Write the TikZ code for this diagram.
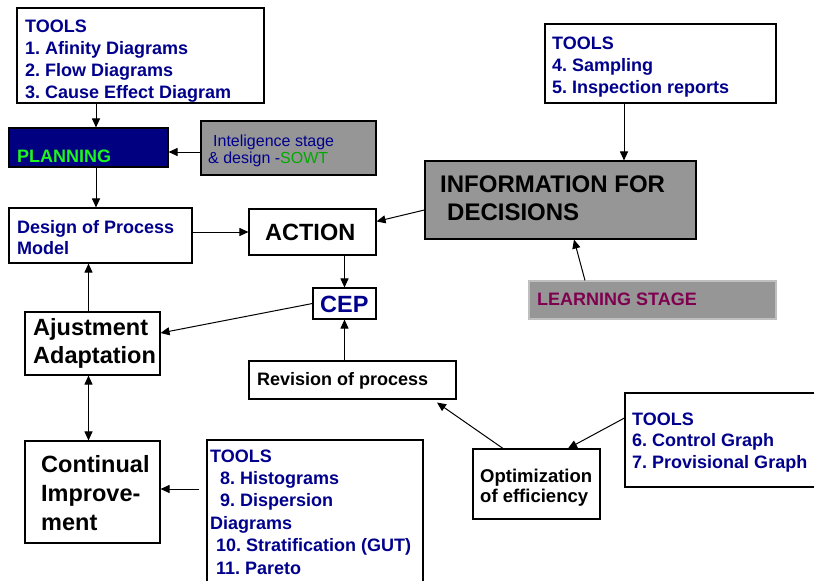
\documentclass[tikz,border=0pt]{standalone}
\usepackage{fontspec}
\setmainfont{Liberation Sans}
\usetikzlibrary{arrows.meta,fit}
\frenchspacing
\definecolor{navytxt}{RGB}{0,0,140}
\definecolor{planfill}{RGB}{0,0,128}
\definecolor{plangreen}{RGB}{30,245,30}
\definecolor{sowtgreen}{RGB}{0,170,0}
\definecolor{boxgray}{RGB}{150,150,150}
\definecolor{learnred}{RGB}{128,0,80}
\newcommand\mylines[1]{\begin{tabular}[t]{@{}l@{}}#1\end{tabular}}
\tikzset{
  box/.style={draw=black, line width=1.1pt, inner sep=0pt, fill=white},
  graybox/.style={box, fill=boxgray},
  txt/.style={anchor=base west, inner sep=0pt, font=\bfseries},
  arr/.style={line width=1pt, -{Triangle[length=9pt,width=8pt]}},
  dblarr/.style={line width=1pt, {Triangle[length=9pt,width=8pt]}-{Triangle[length=9pt,width=8pt]}},
  fs/.style 2 args={node font=\fontsize{#1}{#2}\selectfont\bfseries}
}
\begin{document}
\begin{tikzpicture}[x=1pt,y=-1pt]
\useasboundingbox (0,0) rectangle (814,581);
\fill[white] (0,0) rectangle (814,581);
% boxes
\node[box, fit={(17,8) (264,103)}] (t1) {};
\node[box, fill=planfill, fit={(9,128) (168,167)}] (plan) {};
\node[graybox, fit={(201,121) (376,175)}] (intel) {};
\node[box, fit={(9,208) (192,263)}] (design) {};
\node[box, fit={(249,209) (376,255)}] (action) {};
\node[graybox, fit={(425,161) (696,239)}] (info) {};
\node[box, fit={(545,24) (776,103)}] (t2) {};
\node[graybox, draw=black!25, fit={(529,281) (776,319)}] (learn) {};
\node[box, fit={(313,288) (376,319)}] (cep) {};
\node[box, fit={(25,312) (160,375)}] (ajust) {};
\node[box, fit={(249,361) (456,399)}] (rev) {};
\node[box, fit={(473,449) (600,519)}] (opt) {};
\node[box, fit={(625,393) (830,487)}] (t3) {};
\node[box, fit={(207,440) (423,600)}] (t4) {};
\node[box, fit={(25,441) (160,543)}] (cont) {};
% texts
\node[txt, fs={18}{22}, text=navytxt] (t1txt) at (25,32)
  {\mylines{TOOLS\\1. Afinity Diagrams\\2. Flow Diagrams\\3. Cause Effect Diagram}};
\node[txt, fs={18}{22}, text=plangreen] (plantxt) at (17,162) {PLANNING};
\node[anchor=base west, inner sep=0pt, font={}, node font=\fontsize{16}{17}\selectfont\mdseries, text=navytxt] (inteltxt) at (208,146)
  {\mylines{\hspace*{5pt}Inteligence stage\\\& design -\textcolor{sowtgreen}{SOWT}}};
\node[txt, fs={18}{21}, text=navytxt] (designtxt) at (17,233)
  {\mylines{Design of Process\\Model}};
\node[txt, fs={23.5}{28}] (actiontxt) at (265,240) {ACTION};
\node[txt, fs={24}{28}] (infotxt) at (440,192)
  {\mylines{INFORMATION FOR\\\hspace*{7pt}DECISIONS}};
\node[txt, fs={18}{22}, text=navytxt] (t2txt) at (552,49)
  {\mylines{TOOLS\\4. Sampling\\5. Inspection reports}};
\node[txt, fs={18}{22}, text=learnred] (learntxt) at (537,305) {LEARNING STAGE};
\node[txt, fs={23.5}{28}, text=navytxt] (ceptxt) at (320,312) {CEP};
\node[txt, fs={23.5}{28}] (ajusttxt) at (33,335)
  {\mylines{Ajustment\\Adaptation}};
\node[txt, fs={18}{22}] (revtxt) at (257,385) {Revision of process};
\node[txt, fs={18.5}{20}] (opttxt) at (480,482)
  {\mylines{Optimization\\of efficiency}};
\node[txt, fs={18}{21.5}, text=navytxt] (t3txt) at (632,425)
  {\mylines{TOOLS\\6. Control Graph\\7. Provisional Graph}};
\node[txt, fs={18}{22.4}, text=navytxt] (t4txt) at (210,462)
  {\mylines{TOOLS\\\hspace*{10pt}8. Histograms\\\hspace*{10pt}9. Dispersion\\Diagrams\\\hspace*{6pt}10. Stratification (GUT)\\\hspace*{6pt}11. Pareto}};
\node[txt, fs={23.5}{29}] (conttxt) at (41,472)
  {\mylines{Continual\\Improve-\\ment}};
% connectors
\draw[arr] ([xshift=7.5pt]plan.north |- t1.south) -- ([xshift=7.5pt]plan.north);
\draw[arr] ([yshift=-4pt]intel.west) -- ([yshift=-4pt]intel.west -| plan.east);
\draw[arr] ([xshift=7.5pt]plan.south) -- ([xshift=7.5pt]plan.south |- design.north);
\draw[arr] (design.east |- action.west) -- (action.west);
\draw[arr] ([yshift=-10pt]info.west) -- ([yshift=-13pt]action.north east);
\draw[arr] ([xshift=-36.5pt]t2.south) -- ([xshift=-36.5pt]t2.south |- info.north);
\draw[arr] ([xshift=-67.5pt]learn.north) -- ([xshift=13.5pt]info.south);
\draw[arr] (cep.north |- action.south) -- (cep.north);
\draw[arr] (cep.west) -- ([yshift=10.5pt]ajust.east);
\draw[arr] ([xshift=-4pt]ajust.north) -- ([xshift=-4pt]ajust.north |- design.south);
\draw[arr] (cep.south |- rev.north) -- (cep.south);
\draw[arr] ([xshift=-33.5pt]opt.north) -- ([xshift=84.5pt,yshift=-3pt]rev.south);
\draw[arr] ([yshift=22pt]t3.west) -- ([xshift=31.5pt]opt.north);
\draw[arr] ([xshift=-7pt,yshift=3pt]cont.east -| t4.west) -- ([yshift=3pt]cont.east);
\draw[dblarr] ([xshift=-4pt]ajust.south) -- ([xshift=-4pt]ajust.south |- cont.north);
\end{tikzpicture}
\end{document}
